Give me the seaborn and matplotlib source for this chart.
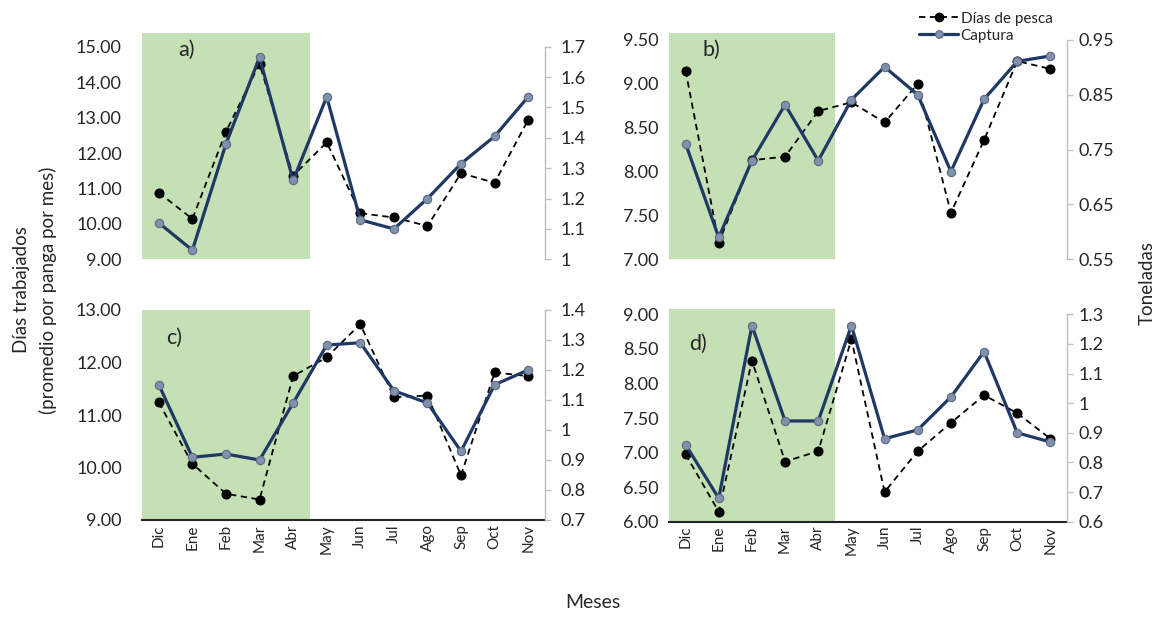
import numpy as np
import pandas as pd
import matplotlib
matplotlib.use("Agg")
import matplotlib.pyplot as plt
import matplotlib.transforms as mtransforms
from matplotlib.patches import Rectangle
from matplotlib.lines import Line2D
import seaborn as sns

# ---------------- data ----------------
meses = ["Dic", "Ene", "Feb", "Mar", "Abr", "May", "Jun", "Jul", "Ago", "Sep", "Oct", "Nov"]

dias_a = [10.88, 10.14, 12.60, 14.52, 11.36, 12.30, 10.30, 10.18, 9.94, 11.43, 11.16, 12.94]
capt_a = [1.12, 1.03, 1.38, 1.665, 1.26, 1.535, 1.13, 1.10, 1.20, 1.315, 1.405, 1.535]

dias_b = [9.15, 7.19, 8.13, 8.17, 8.69, 8.79, 8.56, 9.00, 7.53, 8.36, 9.26, 9.17]
capt_b = [0.761, 0.59, 0.73, 0.832, 0.73, 0.841, 0.901, 0.85, 0.71, 0.842, 0.911, 0.921]

dias_c = [11.24, 10.07, 9.50, 9.39, 11.74, 12.10, 12.73, 11.34, 11.37, 9.85, 11.81, 11.74]
capt_c = [1.151, 0.909, 0.92, 0.90, 1.09, 1.283, 1.291, 1.131, 1.09, 0.929, 1.151, 1.20]

dias_d = [6.975, 6.145, 8.33, 6.87, 7.02, 8.64, 6.43, 7.02, 7.43, 7.83, 7.57, 7.20]
capt_d = [0.86, 0.679, 1.262, 0.94, 0.94, 1.262, 0.88, 0.91, 1.021, 1.174, 0.90, 0.869]

panel_labels = ["a)", "b)", "c)", "d)"]

left_ticks_a = [9, 10, 11, 12, 13, 14, 15]
right_ticks_a = [1.0, 1.1, 1.2, 1.3, 1.4, 1.5, 1.6, 1.7]
left_ticks_b = [7.0, 7.5, 8.0, 8.5, 9.0, 9.5]
right_ticks_b = [0.55, 0.65, 0.75, 0.85, 0.95]
left_ticks_c = [9, 10, 11, 12, 13]
right_ticks_c = [0.7, 0.8, 0.9, 1.0, 1.1, 1.2, 1.3, 1.4]
left_ticks_d = [6.0, 6.5, 7.0, 7.5, 8.0, 8.5, 9.0]
right_ticks_d = [0.6, 0.7, 0.8, 0.9, 1.0, 1.1, 1.2, 1.3]

n_temporada = 5  # Dic..Abr shaded

# ---------------- style ----------------
sns.set_theme(style="white")
plt.rcParams["font.family"] = ["Lato", "DejaVu Sans"]

NAVY = "#1F3864"
MARK = "#8291AB"
GREEN = "#C5E0B4"
TXT = "#262626"

W, H = 1166, 617
fig = plt.figure(figsize=(W / 100, H / 100), dpi=100)

def px_axes(left, top, right, bottom):
    return fig.add_axes([left / W, 1 - bottom / H, (right - left) / W, (bottom - top) / H])

layout = [
    dict(rect=(142, 46.7, 545, 259.3), green_top=1.066, lpad=14.5, rpad=7.5, lab=(0.09, 0.985), xlabels=False),
    dict(rect=(669, 40.0, 1067, 259.3), green_top=1.033, lpad=7.5, rpad=4.0, lab=(0.083, 0.954), xlabels=False),
    dict(rect=(142, 310.0, 545, 520.0), green_top=1.0, lpad=14.5, rpad=7.5, lab=(0.06, 0.867), xlabels=True),
    dict(rect=(669, 314.3, 1067, 521.7), green_top=1.026, lpad=7.5, rpad=4.0, lab=(0.051, 0.857), xlabels=True),
]

series = [
    (dias_a, capt_a, left_ticks_a, right_ticks_a),
    (dias_b, capt_b, left_ticks_b, right_ticks_b),
    (dias_c, capt_c, left_ticks_c, right_ticks_c),
    (dias_d, capt_d, left_ticks_d, right_ticks_d),
]

def fmt_right(v):
    return f"{v:.2f}".rstrip("0").rstrip(".")

x = np.arange(len(meses))
DASH = (0, (3.5, 2.5))

for i, (lay, (dias, capt, lt, rt)) in enumerate(zip(layout, series)):
    ax = px_axes(*lay["rect"])
    ax.set_facecolor("none")
    df = pd.DataFrame({"x": x, "dias": dias, "capt": capt})

    # shaded season
    trans = mtransforms.blended_transform_factory(ax.transData, ax.transAxes)
    ax.add_patch(Rectangle((-0.5, 0), n_temporada, lay["green_top"], transform=trans,
                           facecolor=GREEN, edgecolor="none", clip_on=False, zorder=0))

    sns.lineplot(data=df, x="x", y="dias", ax=ax, color="black", linestyle=DASH,
                 linewidth=1.3, marker="o", markersize=6.5, markerfacecolor="black",
                 markeredgecolor="black", zorder=3)
    ax.set_xlim(-0.5, len(meses) - 0.5)
    ax.set_ylim(lt[0], lt[-1])
    ax.set_yticks(lt)
    ax.set_yticklabels([f"{v:.2f}" for v in lt])
    ax.tick_params(axis="y", length=0, pad=lay["lpad"], labelsize=13, colors=TXT)
    ax.set_xlabel("")
    ax.set_ylabel("")
    for s in ["left", "top", "right"]:
        ax.spines[s].set_visible(False)
    if lay["xlabels"]:
        ax.spines["bottom"].set_visible(True)
        ax.spines["bottom"].set_color(TXT)
        ax.spines["bottom"].set_linewidth(1.5)
        ax.set_xticks(x)
        ax.set_xticklabels(meses, rotation=90)
        ax.tick_params(axis="x", length=0, pad=3, labelsize=11, colors=TXT)
    else:
        ax.spines["bottom"].set_visible(False)
        ax.set_xticks([])

    ax2 = ax.twinx()
    sns.lineplot(data=df, x="x", y="capt", ax=ax2, color=NAVY, linewidth=2.3,
                 marker="o", markersize=6, markerfacecolor=MARK,
                 markeredgecolor="#5A6A86", markeredgewidth=0.8, zorder=4)
    ax2.set_xlim(-0.5, len(meses) - 0.5)
    ax2.set_ylim(rt[0], rt[-1])
    ax2.set_yticks(rt)
    ax2.set_yticklabels([fmt_right(v) for v in rt])
    ax2.set_ylabel("")
    ax2.set_xlabel("")
    for s in ["left", "top", "bottom"]:
        ax2.spines[s].set_visible(False)
    ax2.spines["right"].set_visible(True)
    ax2.spines["right"].set_color("#BFBFBF")
    ax2.spines["right"].set_linewidth(1.0)
    ax2.tick_params(axis="y", direction="out", length=4, width=1.0, color="#BFBFBF",
                    pad=lay["rpad"], labelsize=13, labelcolor=TXT)
    if not lay["xlabels"]:
        ax2.set_xticks([])

    ax.text(lay["lab"][0], lay["lab"][1], panel_labels[i], transform=ax.transAxes,
            fontsize=15.5, color=TXT, ha="left", va="center", zorder=6)

# axis titles
fig.text(21 / W, 1 - 290 / H, "Días trabajados", rotation=90, ha="center", va="center",
         fontsize=13.5, color=TXT)
fig.text(48 / W, 1 - 290 / H, "(promedio por panga por mes)", rotation=90, ha="center",
         va="center", fontsize=13.5, color=TXT)
fig.text(1147 / W, 1 - 283 / H, "Toneladas", rotation=90, ha="center", va="center",
         fontsize=13.5, color=TXT)
fig.text(593 / W, 1 - 603 / H, "Meses", ha="center", va="center", fontsize=14, color=TXT)

# legend
handles = [
    Line2D([], [], color="black", linestyle=DASH, linewidth=1.3, marker="o",
           markersize=6, markerfacecolor="black"),
    Line2D([], [], color=NAVY, linewidth=2.3, marker="o", markersize=5.5,
           markerfacecolor=MARK, markeredgecolor="#5A6A86", markeredgewidth=0.8),
]
fig.legend(handles, ["Días de pesca", "Captura"], loc="upper left",
           bbox_to_anchor=(908 / W, 1 - 1 / H), frameon=False, fontsize=11,
           handlelength=2.6, handletextpad=0.15, labelspacing=0.2, borderpad=0.2,
           labelcolor=TXT)

fig.savefig("out.png", dpi=100)
